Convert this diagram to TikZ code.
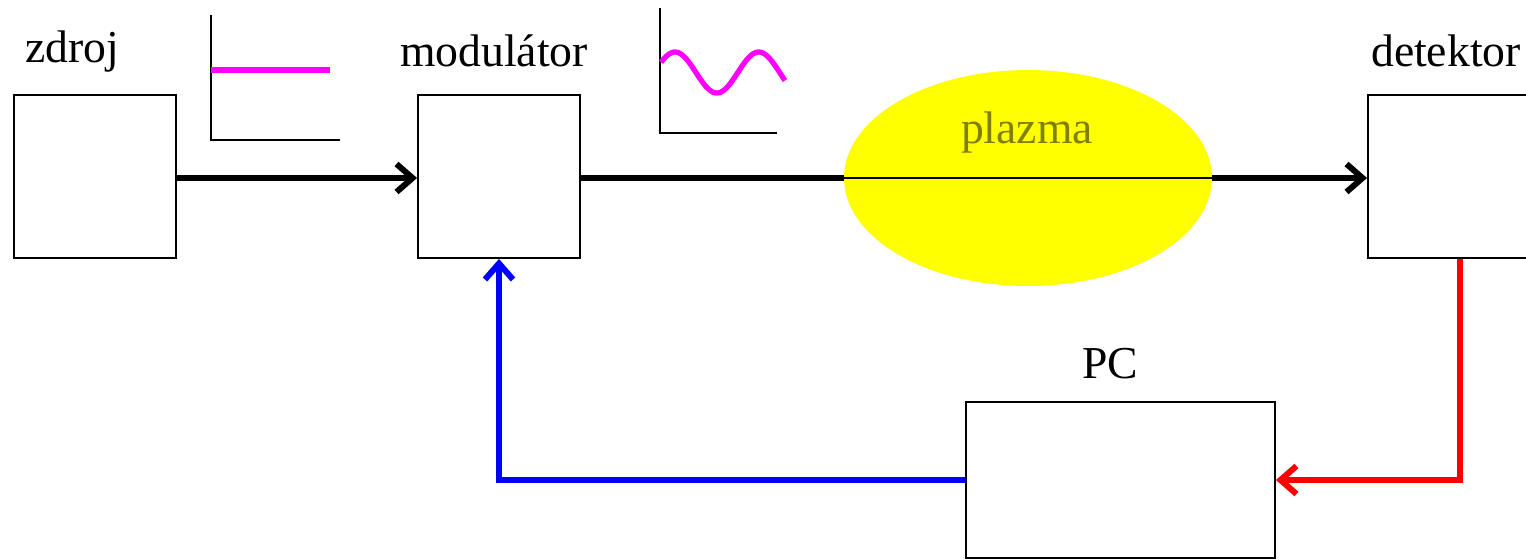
\documentclass[tikz,border=0pt]{standalone}
\usepackage{fontspec}
\setmainfont{Liberation Serif}
\usetikzlibrary{arrows.meta,shapes.geometric}
\definecolor{fialova}{RGB}{255,0,255}
\definecolor{zluta}{RGB}{255,255,0}
\definecolor{olivova}{RGB}{128,128,0}
\definecolor{cervena}{RGB}{255,0,0}
\definecolor{modra}{RGB}{0,0,255}
\tikzset{
  blok/.style={draw, line width=1.1pt, fill=white, minimum width=3.24cm, minimum height=3.26cm, inner sep=0pt},
  popis/.style={anchor=base, font=\fontsize{26}{30}\selectfont},
  signal/.style={line width=3.4pt, -{Straight Barb[length=3.2mm,width=5.6mm]}},
  osa/.style={line width=1.1pt}
}
\begin{document}
\begin{tikzpicture}[x=0.02cm, y=-0.02cm]
\useasboundingbox (0,0) rectangle (1526,559);

\node[ellipse, fill=zluta, minimum width=7.36cm, minimum height=4.32cm] (plazma) at (1028,178) {};
\node[popis, text=olivova] (plazmatext) at (1027,143) {plazma};

\node[blok] (zdroj) at (95,176.5) {};
\node[blok] (mod) at (499,176.5) {};
\node[blok] (det) at (1449,176.5) {};
\node[blok, minimum width=6.18cm, minimum height=3.12cm] (pc) at (1120.5,480) {};

\node[popis] (zdrojtext) at (72,62) {zdroj};
\node[popis] (modtext) at (494,66) {modulátor};
\node[popis] (dettext) at (1446,66) {detektor};
\node[popis] (pctext) at (1110,378) {PC};

\draw[signal] (zdroj.east |- 0,178) -- (mod.west |- 0,178);
\draw[line width=3.4pt] (mod.east |- plazma.center) -- (plazma.west);
\draw[line width=1.1pt] (plazma.west) -- (plazma.east);
\draw[signal] (plazma.east) -- (det.west |- plazma.center);

\draw[signal, cervena] ([xshift=0.22cm]det.south) |- (pc.east);
\draw[signal, modra] (pc.west) -| (mod.south);

% grafy
\draw[osa] (211,15) -- (211,140) -- (340,140);
\draw[line width=3.4pt, fialova] (211,70) -- (330,70);

\draw[osa] (660,8) -- (660,133) -- (777,133);
\draw[line width=3pt, fialova, domain=661:785, samples=60, smooth]
  plot (\x, {72.5-20.5*cos(4.3*(\x-675))});
\end{tikzpicture}
\end{document}
